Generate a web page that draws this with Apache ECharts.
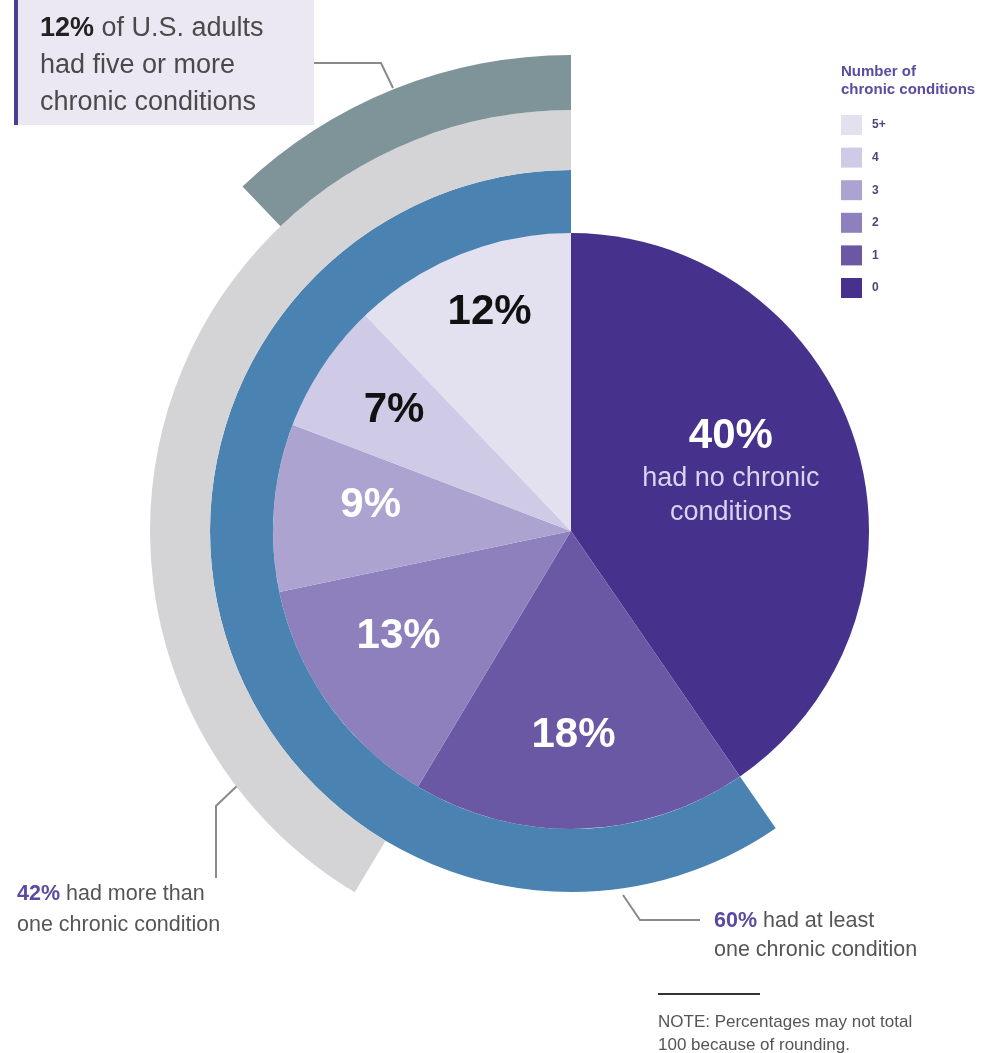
<!DOCTYPE html>
<html>
<head>
<meta charset="utf-8">
<script src="https://cdn.jsdelivr.net/npm/echarts@6/dist/echarts.min.js"></script>
<style>
html,body{margin:0;padding:0;background:#fff;}
#chart{width:982px;height:1053px;}
</style>
</head>
<body>
<div id="chart"></div>
<script>
const categories = ['0', '1', '2', '3', '4', '5+'];
const shares = [40, 18, 13, 9, 7, 12];
const sliceColors = ['#46318c', '#6b58a4', '#8d80bd', '#aca3d1', '#cfcae5', '#e3e0f0'];
const labelColors = ['#ffffff', '#ffffff', '#ffffff', '#ffffff', '#111111', '#111111'];
const legendOrder = ['5+', '4', '3', '2', '1', '0'];
const ringNames = ['At least one chronic condition', 'More than one chronic condition', 'Five or more chronic conditions'];
const ringShares = [60, 42, 12];             // stated totals (annotations)
const ringFirstCategory = ['1', '2', '5+'];   // each ring groups this category and all after it
const ringColors = ['#4a82b2', '#d4d4d6', '#7f9498'];

const FONT = '"Liberation Sans", Arial, Helvetica, sans-serif';
const CX = 571, CY = 531;
const ringRadii = [[298, 361], [361, 421], [421, 476]];

const chart = echarts.init(document.getElementById('chart'), null, {renderer: 'canvas'});

const sum = a => a.reduce((s, v) => s + v, 0);
const ringSeries = ringShares.map((v, i) => {
  const k = categories.indexOf(ringFirstCategory[i]);
  const covered = sum(shares.slice(k));
  const rest = sum(shares.slice(0, k));
  return {
    type: 'pie',
    silent: true,
    center: [CX, CY],
    radius: ringRadii[i],
    startAngle: 90,
    clockwise: false,
    label: {show: false},
    labelLine: {show: false},
    emphasis: {disabled: true},
    data: [
      {name: ringNames[i], value: covered, itemStyle: {color: ringColors[i]}},
      {name: 'rest' + i, value: rest, itemStyle: {color: 'rgba(0,0,0,0)'}}
    ]
  };
});

const labelOffsets = {'0': [-34, 0], '1': [-4, 2], '2': [-7, -12], '3': [2, -9], '4': [-8, -8], '5+': [-6, -30]};

const option = {
  animation: false,
  title: {
    text: 'Number of\nchronic conditions',
    left: 836, top: 58,
    textStyle: {fontFamily: FONT, fontSize: 15, fontWeight: 'bold', color: '#5b4ba0', lineHeight: 18}
  },
  legend: {
    orient: 'vertical',
    left: 836, top: 110,
    itemWidth: 21, itemHeight: 20, itemGap: 12.6,
    icon: 'rect',
    selectedMode: false,
    data: legendOrder,
    textStyle: {fontFamily: FONT, fontSize: 12, fontWeight: 'bold', color: '#4a4678', padding: [0, 0, 0, 5]}
  },
  series: [
    {
      type: 'pie',
      name: 'Number of chronic conditions',
      silent: true,
      center: [CX, CY],
      radius: [0, 298],
      startAngle: 90,
      clockwise: true,
      label: {show: false},
      labelLine: {show: false},
      emphasis: {disabled: true},
      data: categories.map((c, i) => ({name: c, value: shares[i], itemStyle: {color: sliceColors[i]}}))
    },
    ...ringSeries,
    {
      type: 'pie',
      name: 'labels',
      silent: true,
      center: [CX, CY],
      radius: [0, 400],
      startAngle: 90,
      clockwise: true,
      labelLine: {show: false},
      emphasis: {disabled: true},
      itemStyle: {color: 'rgba(0,0,0,0)'},
      data: categories.map((c, i) => ({
        name: c,
        value: shares[i],
        itemStyle: {color: 'rgba(0,0,0,0)'},
        label: {
          show: true,
          position: 'inside',
          offset: labelOffsets[c] || [0, 0],
          color: labelColors[i],
          fontFamily: FONT,
          formatter: c === '0'
            ? '{big|' + shares[i] + '%}\n{sub|had no chronic}\n{sub|conditions}'
            : '{big|' + shares[i] + '%}',
          rich: {
            big: {fontFamily: FONT, fontSize: 42, fontWeight: 'bold', color: labelColors[i], lineHeight: 50},
            sub: {fontFamily: FONT, fontSize: 27, color: '#d9d3ef', lineHeight: 34}
          }
        }
      }))
    }
  ],
  graphic: [
    {type: 'rect', shape: {x: 14, y: 0, width: 300, height: 125}, style: {fill: '#ebe8f3'}, silent: true},
    {type: 'rect', shape: {x: 14, y: 0, width: 4, height: 125}, style: {fill: '#4b3d8f'}, silent: true},
    {
      type: 'text', x: 40, y: 10, silent: true,
      style: {
        text: '{b|12%}{n| of U.S. adults}\n{n|had five or more}\n{n|chronic conditions}',
        rich: {
          b: {fontFamily: FONT, fontSize: 27, fontWeight: 'bold', fill: '#222222', lineHeight: 37},
          n: {fontFamily: FONT, fontSize: 27, fill: '#4a4a4a', lineHeight: 37}
        }
      }
    },
    {type: 'polyline', shape: {points: [[314, 63], [381, 63], [393, 88]]}, style: {stroke: '#8a8a8a', lineWidth: 2, fill: null}, silent: true},
    {type: 'polyline', shape: {points: [[240, 783], [216, 806], [216, 878]]}, style: {stroke: '#8a8a8a', lineWidth: 2, fill: null}, silent: true},
    {
      type: 'text', x: 17, y: 879, silent: true,
      style: {
        text: '{p|42%}{n| had more than}\n{n|one chronic condition}',
        rich: {
          p: {fontFamily: FONT, fontSize: 21.5, fontWeight: 'bold', fill: '#5b4aa0', lineHeight: 31},
          n: {fontFamily: FONT, fontSize: 21.5, fill: '#555555', lineHeight: 31}
        }
      }
    },
    {type: 'polyline', shape: {points: [[623, 895], [640, 920], [700, 920]]}, style: {stroke: '#8a8a8a', lineWidth: 2, fill: null}, silent: true},
    {
      type: 'text', x: 714, y: 907, silent: true,
      style: {
        text: '{p|60%}{n| had at least}\n{n|one chronic condition}',
        rich: {
          p: {fontFamily: FONT, fontSize: 21.5, fontWeight: 'bold', fill: '#5b4aa0', lineHeight: 29},
          n: {fontFamily: FONT, fontSize: 21.5, fill: '#555555', lineHeight: 29}
        }
      }
    },
    {type: 'line', shape: {x1: 658, y1: 994, x2: 760, y2: 994}, style: {stroke: '#333333', lineWidth: 2}, silent: true},
    {
      type: 'text', x: 658, y: 1011, silent: true,
      style: {
        text: 'NOTE: Percentages may not total\n100 because of rounding.',
        fontFamily: FONT, fontSize: 17, fill: '#555555', lineHeight: 23
      }
    }
  ]
};
chart.setOption(option);
</script>
</body>
</html>
